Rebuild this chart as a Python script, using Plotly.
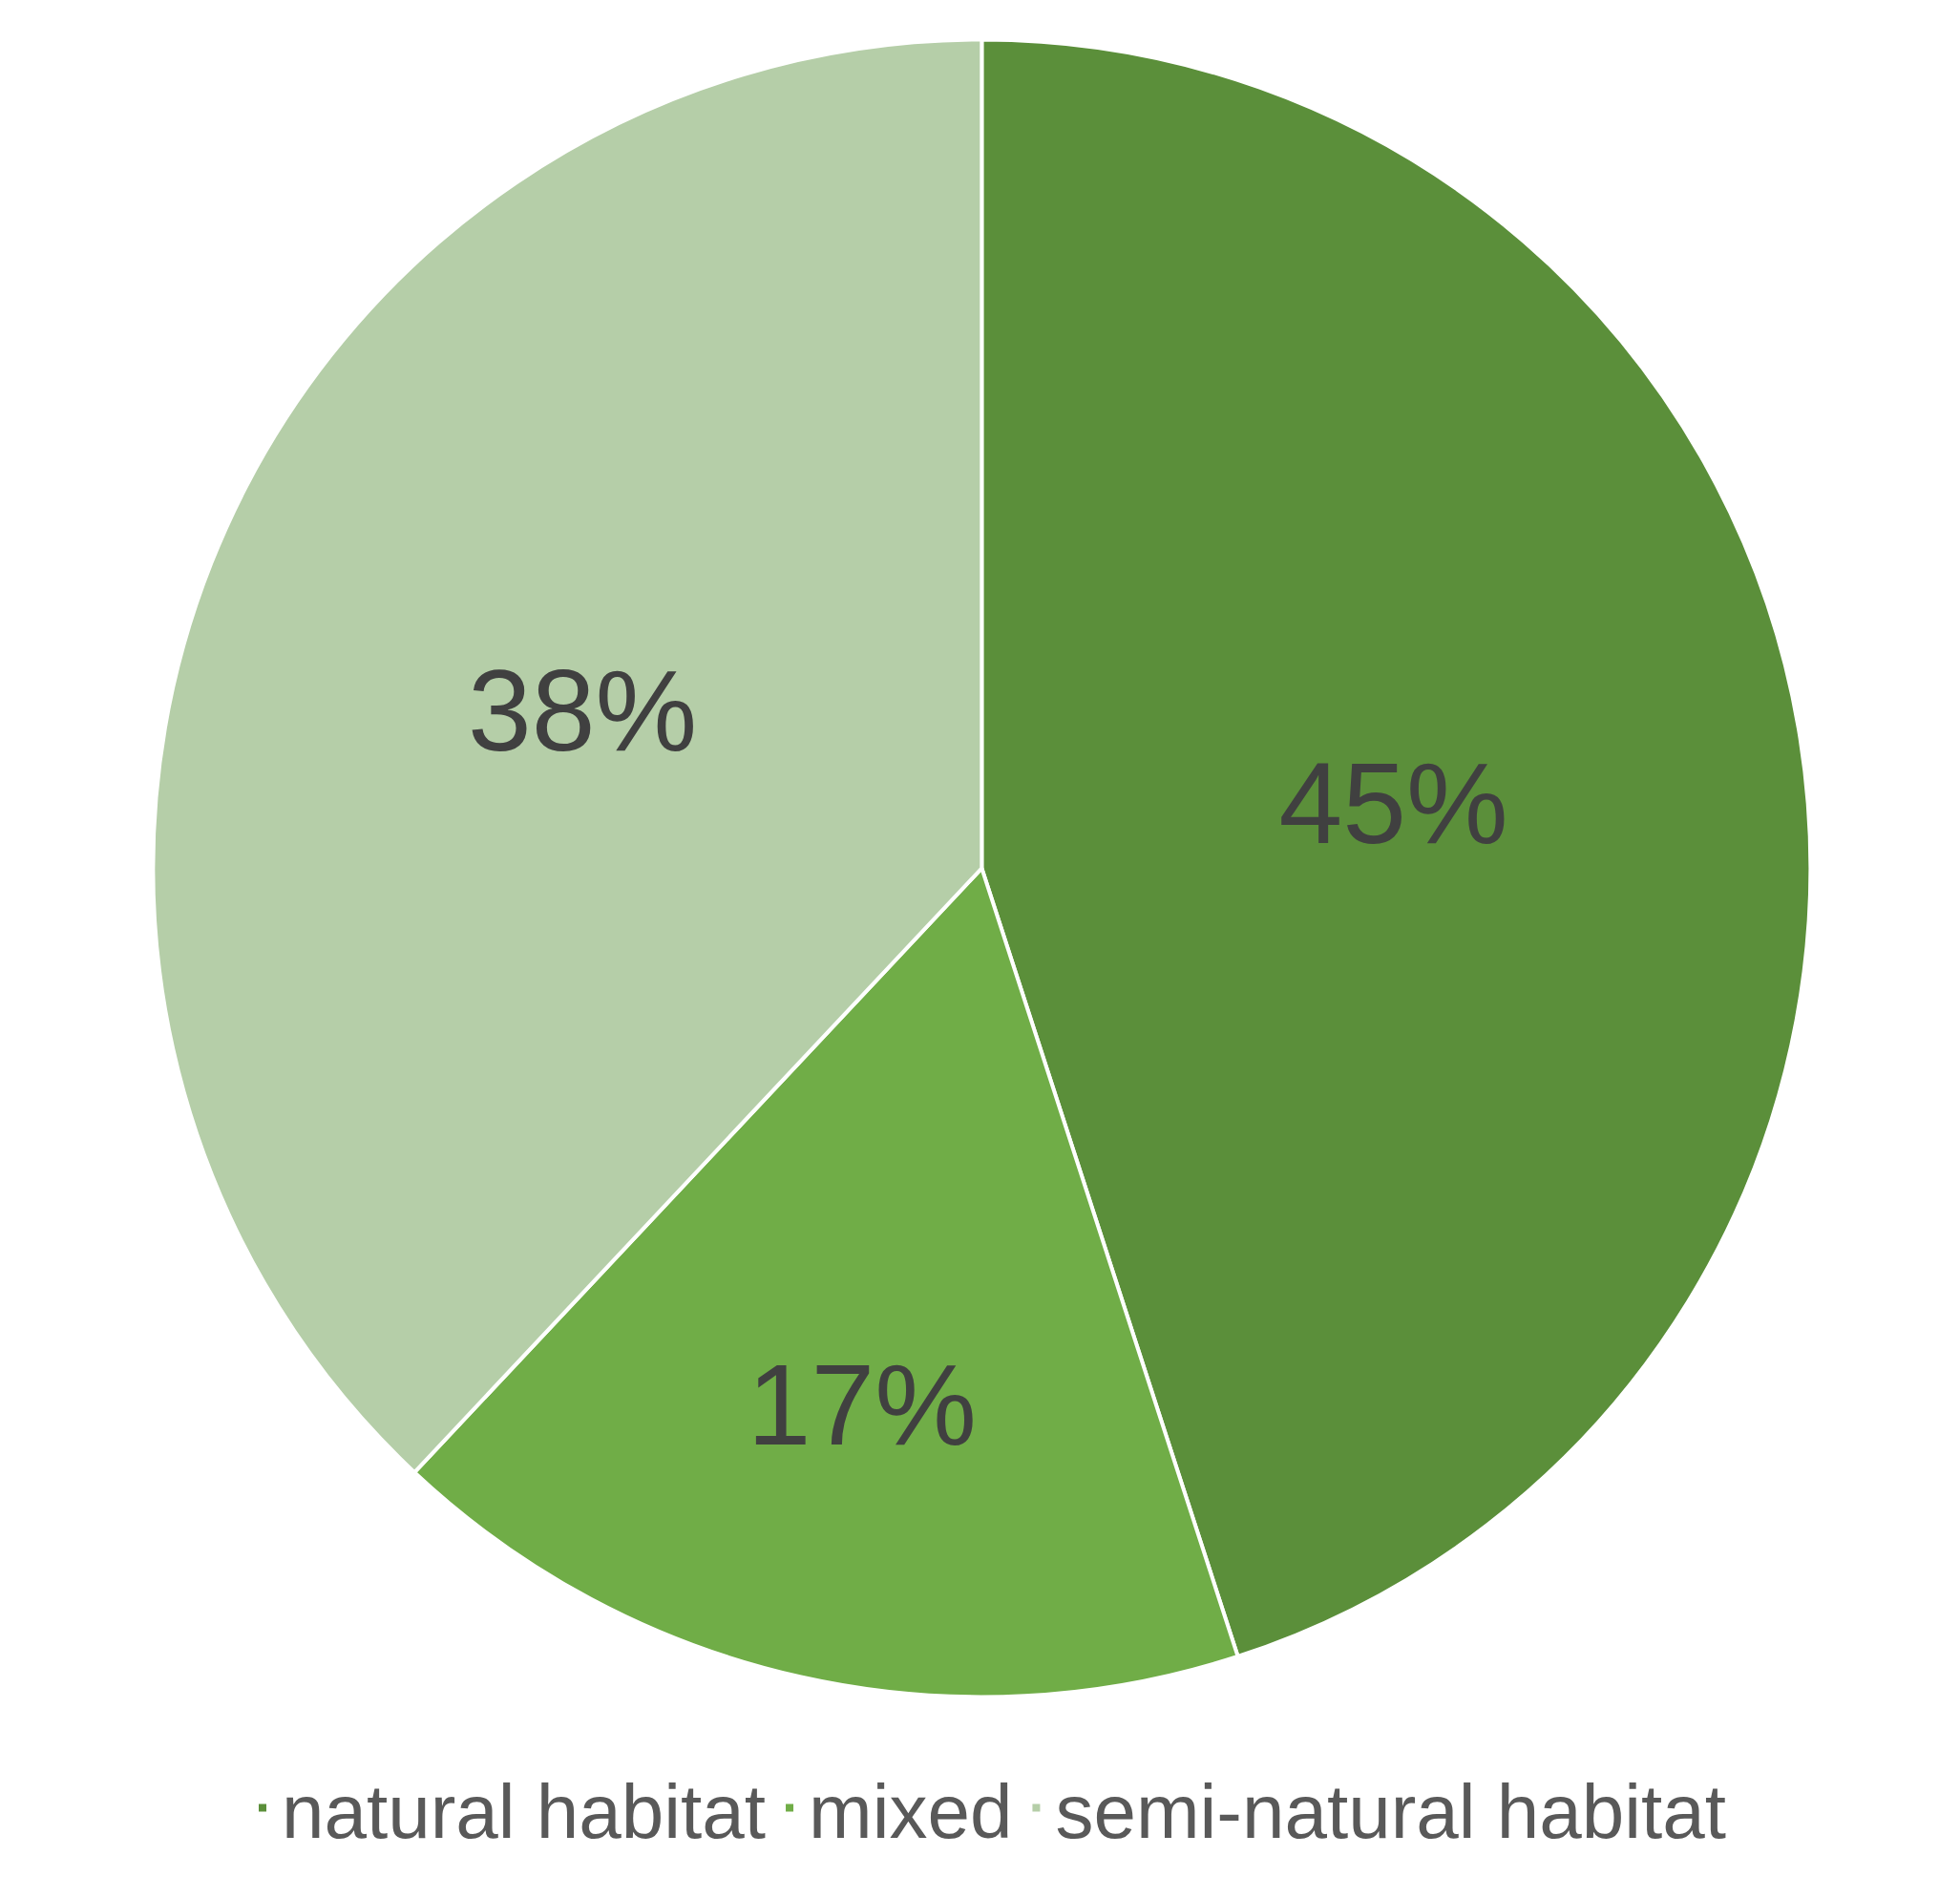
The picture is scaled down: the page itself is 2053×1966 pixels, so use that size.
import plotly.graph_objects as go

labels = ["natural habitat", "mixed", "semi-natural habitat"]
values = [45, 17, 38]
colors = ["#5B8F3A", "#70AD47", "#B5CEA8"]

fig = go.Figure(go.Pie(
    labels=labels, values=values, sort=False, direction="clockwise", rotation=0,
    marker=dict(colors=colors, line=dict(color="white", width=4)),
    textinfo="percent", textposition="inside", insidetextorientation="horizontal",
    textfont=dict(size=120, color="#404040", family="Liberation Sans, Arial"),
    domain=dict(x=[0.074, 0.920], y=[0.100, 0.983]),
))
fig.update_layout(
    width=2053, height=1966, margin=dict(l=0, r=0, t=0, b=0),
    paper_bgcolor="white",
    legend=dict(orientation="h", x=0.5, xanchor="center", y=0.041, yanchor="middle",
                font=dict(size=80, color="#595959", family="Liberation Sans, Arial"),
                itemwidth=30, tracegroupgap=0),
)
fig.write_html("out.html")
